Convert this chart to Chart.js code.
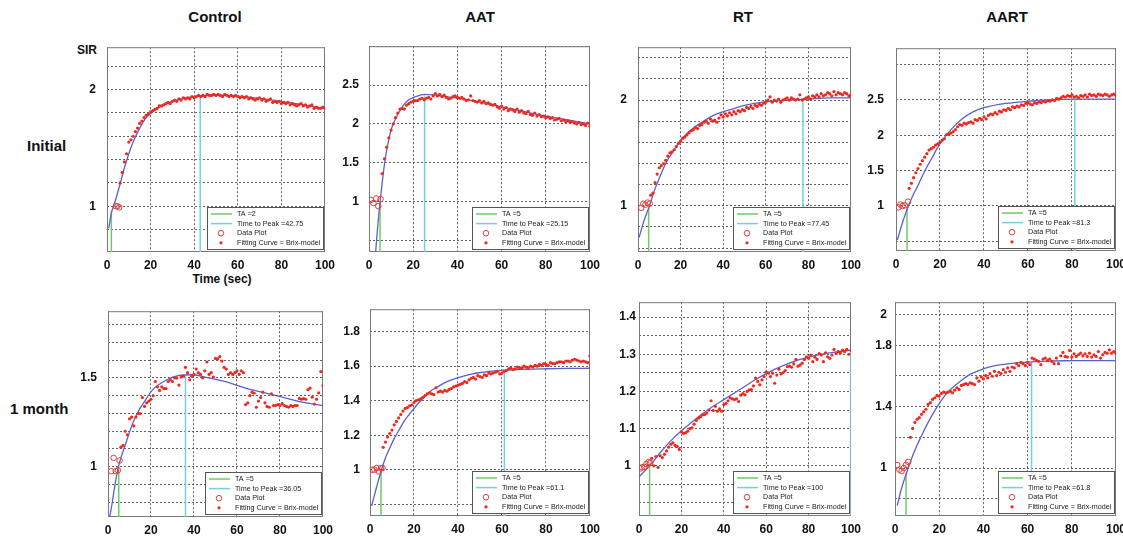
<!DOCTYPE html>
<html>
<head>
<meta charset="utf-8">
<title>SIR time curves</title>
<script src="https://cdn.jsdelivr.net/npm/chart.js@4.4.1/dist/chart.umd.min.js"></script>
<style>
  body { margin: 0; background: #fff; }
  .page { position: relative; width: 1123px; height: 540px; overflow: hidden; font-family: 'Liberation Sans', Arial, sans-serif; }
  .page canvas { position: absolute; }
  .txt { position: absolute; transform: translate(-50%, -50%); font-weight: bold; color: #111; white-space: nowrap; }
  .txt.row { transform: translate(0, -50%); }
</style>
</head>
<body>
<div class="page" id="page">
  <div class="txt" style="left:215px; top:16px; font-size:15px">Control</div>
  <div class="txt" style="left:480px; top:16px; font-size:15px">AAT</div>
  <div class="txt" style="left:743px; top:16px; font-size:15px">RT</div>
  <div class="txt" style="left:1007px; top:16px; font-size:15px">AART</div>
  <div class="txt row" style="left:27px; top:145px; font-size:15px">Initial</div>
  <div class="txt row" style="left:10px; top:408px; font-size:15px">1 month</div>
  <div class="txt" style="left:87px; top:50px; font-size:12px">SIR</div>
  <div class="txt" style="left:222px; top:279px; font-size:12px">Time (sec)</div>
</div>
<script>
// --- DATA | SHARED --- //
const seconds = [
  6, 7, 8, 9, 10, 11, 12, 13, 14, 15,
  16, 17, 18, 19, 20, 21, 22, 23, 24, 25,
  26, 27, 28, 29, 30, 31, 32, 33, 34, 35,
  36, 37, 38, 39, 40, 41, 42, 43, 44, 45,
  46, 47, 48, 49, 50, 51, 52, 53, 54, 55,
  56, 57, 58, 59, 60, 61, 62, 63, 64, 65,
  66, 67, 68, 69, 70, 71, 72, 73, 74, 75,
  76, 77, 78, 79, 80, 81, 82, 83, 84, 85,
  86, 87, 88, 89, 90, 91, 92, 93, 94, 95,
  96, 97, 98, 99, 100
]
const xTicks = [0, 20, 40, 60, 80, 100]

const taValues = [2, 5, 5, 5, 5, 5, 5, 5]
const taTops = [0.96, 0.99, 0.98, 0.99, 0.99, 1.0, 1.0, 0.97]
const ttpValues = [42.75, 25.15, 77.45, 81.3, 36.05, 61.1, 100, 61.8]
const ttpTops = [1.945, 2.37, 2.0, 2.5, 1.515, 1.577, 1.31, 1.69]
const yMins = [0.607, 0.35, 0.563, 0.364, 0.717, 0.732, 0.865, 0.688]
const yMaxs = [2.364, 3.0, 2.5, 3.23, 1.876, 1.93, 1.44, 2.08]

// --- DATA | CONTROL, INITIAL --- //
const ctlInitGrid = [0.8, 1, 1.2, 1.4, 1.6, 1.8, 2, 2.2]
const ctlInitLabels = [1, 2]
const ctlInitFitT = [0.8, 2, 3, 4, 6, 8, 10, 12, 15, 18, 21, 25, 30, 35, 40, 45, 50, 55, 60, 70, 80, 90, 100]
const ctlInitFitV = [0.81, 0.94, 1.0, 1.06, 1.19, 1.33, 1.45, 1.55, 1.67, 1.76, 1.81, 1.86, 1.9, 1.925, 1.94, 1.948, 1.95, 1.95, 1.945, 1.925, 1.9, 1.87, 1.84]
const ctlInitCircT = [4, 4.8, 5.6]
const ctlInitCircV = [1.0, 1.0, 0.99]
const ctlInitDots = [
  1.20, 1.29, 1.38, 1.45, 1.55, 1.57, 1.60, 1.64, 1.67, 1.71,
  1.73, 1.76, 1.78, 1.79, 1.81, 1.82, 1.83, 1.84, 1.86, 1.86,
  1.87, 1.88, 1.89, 1.88, 1.90, 1.91, 1.90, 1.92, 1.91, 1.93,
  1.92, 1.93, 1.92, 1.94, 1.93, 1.94, 1.95, 1.94, 1.95, 1.94,
  1.96, 1.95, 1.95, 1.96, 1.95, 1.96, 1.95, 1.94, 1.96, 1.95,
  1.94, 1.95, 1.94, 1.95, 1.94, 1.93, 1.94, 1.93, 1.94, 1.92,
  1.93, 1.92, 1.91, 1.92, 1.93, 1.91, 1.92, 1.90, 1.91, 1.92,
  1.89, 1.90, 1.89, 1.90, 1.88, 1.89, 1.88, 1.89, 1.87, 1.88,
  1.87, 1.86, 1.87, 1.88, 1.86, 1.87, 1.85, 1.86, 1.87, 1.84,
  1.85, 1.84, 1.84, 1.85, 1.84
]

// --- DATA | AAT, INITIAL --- //
const aatInitGrid = [0.5, 1, 1.5, 2, 2.5, 3]
const aatInitLabels = [1, 1.5, 2, 2.5]
const aatInitFitT = [3, 4, 5, 6, 7, 8, 9, 10, 11, 13, 15, 18, 21, 25, 30, 35, 40, 50, 60, 70, 80, 90, 100]
const aatInitFitV = [0.35, 0.7, 0.99, 1.25, 1.48, 1.66, 1.8, 1.92, 2.0, 2.12, 2.22, 2.31, 2.35, 2.38, 2.37, 2.35, 2.33, 2.28, 2.22, 2.16, 2.1, 2.05, 2.0]
const aatInitCircT = [0.8, 2, 3.3, 4.2, 5.2]
const aatInitCircV = [1.02, 0.98, 1.04, 0.94, 1.03]
const aatInitDots = [
  1.36, 1.55, 1.70, 1.82, 1.92, 2.00, 2.08, 2.14, 2.19, 2.20,
  2.19, 2.24, 2.26, 2.28, 2.29, 2.30, 2.30, 2.32, 2.33, 2.31,
  2.33, 2.34, 2.32, 2.36, 2.39, 2.36, 2.38, 2.35, 2.37, 2.34,
  2.32, 2.33, 2.35, 2.36, 2.34, 2.33, 2.34, 2.32, 2.30, 2.31,
  2.36, 2.30, 2.29, 2.28, 2.30, 2.27, 2.29, 2.26, 2.27, 2.25,
  2.24, 2.25, 2.22, 2.20, 2.23, 2.19, 2.21, 2.17, 2.19, 2.18,
  2.16, 2.19, 2.15, 2.17, 2.14, 2.13, 2.16, 2.12, 2.11, 2.14,
  2.10, 2.12, 2.09, 2.10, 2.08, 2.09, 2.07, 2.08, 2.05, 2.06,
  2.07, 2.04, 2.05, 2.03, 2.04, 2.02, 2.03, 2.01, 2.00, 2.02,
  1.99, 2.00, 1.98, 2.01, 1.97
]

// --- DATA | RT, INITIAL --- //
const rtInitGrid = [0.6, 0.8, 1, 1.2, 1.4, 1.6, 1.8, 2, 2.2, 2.4]
const rtInitLabels = [1, 2]
const rtInitFitT = [0.5, 3, 5.4, 8, 10, 13, 16, 20, 25, 30, 35, 40, 45, 50, 60, 70, 80, 90, 100]
const rtInitFitV = [0.7, 0.87, 1.0, 1.16, 1.26, 1.4, 1.5, 1.62, 1.72, 1.79, 1.85, 1.89, 1.92, 1.95, 1.985, 2.0, 2.01, 2.02, 2.02]
const rtInitCircT = [1.5, 2.5, 3.5, 4.5, 5.5]
const rtInitCircV = [0.98, 1.02, 1.01, 1.03, 1.02]
const rtInitDots = [
  1.10, 1.12, 1.22, 1.30, 1.36, 1.38, 1.40, 1.43, 1.47, 1.50,
  1.51, 1.53, 1.56, 1.59, 1.61, 1.64, 1.65, 1.67, 1.69, 1.71,
  1.72, 1.74, 1.73, 1.76, 1.77, 1.79, 1.80, 1.78, 1.82, 1.80,
  1.81, 1.79, 1.83, 1.86, 1.84, 1.87, 1.85, 1.88, 1.86, 1.89,
  1.87, 1.90, 1.89, 1.91, 1.90, 1.93, 1.92, 1.94, 1.92, 1.95,
  1.94, 1.96, 1.95, 1.97, 1.98, 2.00, 2.03, 1.98, 2.00, 1.99,
  2.01, 1.98, 2.00, 2.01, 2.02, 2.00, 2.02, 2.01, 2.00, 2.01,
  2.05, 2.00, 2.01, 2.02, 2.03, 2.01, 2.04, 2.03, 2.05, 2.03,
  2.06, 2.04, 2.05, 2.07, 2.06, 2.04, 2.08, 2.05, 2.07, 2.06,
  2.05, 2.07, 2.06, 2.04, 2.05
]

// --- DATA | AART, INITIAL --- //
const aartInitGrid = [0.5, 1, 1.5, 2, 2.5, 3]
const aartInitLabels = [1, 1.5, 2, 2.5]
const aartInitFitT = [0.6, 3, 5.5, 8, 10, 13, 16, 20, 25, 30, 35, 40, 50, 60, 70, 80, 90, 100]
const aartInitFitV = [0.52, 0.77, 0.99, 1.17, 1.29, 1.49, 1.66, 1.88, 2.08, 2.23, 2.33, 2.39, 2.45, 2.48, 2.5, 2.51, 2.51, 2.51]
const aartInitCircT = [1, 2, 3, 4, 5.5]
const aartInitCircV = [0.98, 1.02, 1.0, 1.01, 1.06]
const aartInitDots = [
  1.25, 1.32, 1.40, 1.47, 1.53, 1.59, 1.64, 1.69, 1.74, 1.79,
  1.81, 1.83, 1.86, 1.88, 1.90, 1.93, 1.95, 2.01, 2.02, 2.03,
  2.05, 2.08, 2.12, 2.15, 2.14, 2.17, 2.16, 2.18, 2.19, 2.17,
  2.22, 2.21, 2.24, 2.22, 2.26, 2.23, 2.28, 2.30, 2.29, 2.32,
  2.30, 2.34, 2.33, 2.36, 2.35, 2.38, 2.36, 2.40, 2.39, 2.41,
  2.40, 2.43, 2.42, 2.45, 2.46, 2.44, 2.43, 2.46, 2.45, 2.47,
  2.46, 2.48, 2.47, 2.49, 2.48, 2.50, 2.49, 2.52, 2.51, 2.53,
  2.55, 2.54, 2.56, 2.55, 2.57, 2.54, 2.55, 2.53, 2.56, 2.55,
  2.57, 2.54, 2.58, 2.56, 2.57, 2.55, 2.58, 2.57, 2.56, 2.58,
  2.57, 2.55, 2.57, 2.58, 2.56
]

// --- DATA | CONTROL, 1 MONTH --- //
const ctlMonthGrid = [0.8, 0.9, 1, 1.1, 1.2, 1.3, 1.4, 1.5, 1.6, 1.7, 1.8]
const ctlMonthLabels = [1, 1.5]
const ctlMonthFitT = [0.8, 2, 3, 4.6, 6, 8.5, 11.5, 14, 16.2, 20.8, 26.9, 33, 39, 45, 55, 64, 73, 82, 91, 100]
const ctlMonthFitV = [0.717, 0.8, 0.88, 0.986, 1.05, 1.14, 1.245, 1.31, 1.353, 1.434, 1.487, 1.514, 1.518, 1.505, 1.478, 1.443, 1.416, 1.389, 1.362, 1.344]
const ctlMonthCircT = [1.5, 2.6, 3.6, 4.6, 5.4]
const ctlMonthCircV = [0.975, 1.05, 0.975, 0.98, 1.035]
const ctlMonthDots = [
  1.11, 1.12, 1.20, 1.18, 1.27, 1.28, 1.23, 1.28, 1.30, 1.30,
  1.39, 1.34, 1.36, 1.37, 1.38, 1.40, 1.48, 1.45, 1.43, 1.45,
  1.44, 1.44, 1.48, 1.49, 1.48, 1.50, 1.50, 1.46, 1.505, 1.51,
  1.56, 1.53, 1.49, 1.51, 1.52, 1.55, 1.53, 1.52, 1.50, 1.54,
  1.59, 1.52, 1.53, 1.505, 1.61, 1.607, 1.62, 1.595, 1.56, 1.55,
  1.52, 1.53, 1.52, 1.53, 1.54, 1.52, 1.54, 1.53, 1.35, 1.36,
  1.40, 1.42, 1.415, 1.335, 1.37, 1.39, 1.42, 1.36, 1.34, 1.335,
  1.41, 1.345, 1.345, 1.35, 1.345, 1.355, 1.345, 1.34, 1.335, 1.345,
  1.34, 1.345, 1.345, 1.385, 1.38, 1.384, 1.38, 1.434, 1.443, 1.392,
  1.353, 1.38, 1.416, 1.536, 1.457
]

// --- DATA | AAT, 1 MONTH --- //
const aatMonthGrid = [0.8, 1, 1.2, 1.4, 1.6, 1.8]
const aatMonthLabels = [1, 1.2, 1.4, 1.6, 1.8]
const aatMonthFitT = [0.75, 3, 5.2, 7, 9, 11, 13.5, 16, 19.5, 22, 25.5, 28, 31.5, 35, 39, 46.5, 54, 61.5, 70, 80, 90, 100]
const aatMonthFitV = [0.79, 0.9, 1.0, 1.068, 1.126, 1.18, 1.237, 1.29, 1.347, 1.385, 1.43, 1.46, 1.486, 1.51, 1.529, 1.555, 1.569, 1.577, 1.582, 1.585, 1.587, 1.588]
const aatMonthCircT = [1, 2, 3, 4, 5, 5.7]
const aatMonthCircV = [1.0, 1.0, 1.01, 0.99, 1.01, 1.01]
const aatMonthDots = [
  1.13, 1.16, 1.19, 1.21, 1.23, 1.26, 1.28, 1.30, 1.32, 1.34,
  1.355, 1.36, 1.37, 1.375, 1.39, 1.40, 1.405, 1.41, 1.42, 1.43,
  1.44, 1.445, 1.44, 1.435, 1.475, 1.45, 1.455, 1.45, 1.46, 1.455,
  1.465, 1.47, 1.48, 1.485, 1.49, 1.495, 1.50, 1.51, 1.505, 1.52,
  1.53, 1.535, 1.525, 1.545, 1.54, 1.535, 1.55, 1.545, 1.56, 1.555,
  1.56, 1.565, 1.57, 1.555, 1.56, 1.57, 1.575, 1.585, 1.59, 1.58,
  1.585, 1.595, 1.59, 1.59, 1.60, 1.595, 1.59, 1.60, 1.595, 1.605,
  1.60, 1.61, 1.605, 1.615, 1.61, 1.605, 1.62, 1.615, 1.615, 1.62,
  1.625, 1.625, 1.62, 1.63, 1.63, 1.625, 1.635, 1.64, 1.635, 1.63,
  1.625, 1.63, 1.625, 1.62, 1.66
]

// --- DATA | RT, 1 MONTH --- //
const rtMonthGrid = [0.9, 0.95, 1, 1.05, 1.1, 1.15, 1.2, 1.25, 1.3, 1.35, 1.4]
const rtMonthLabels = [1, 1.1, 1.2, 1.3, 1.4]
const rtMonthFitT = [0, 5, 10, 15, 20, 25, 30, 35, 40, 45, 50, 55, 60, 65, 70, 75, 80, 85, 90, 95, 100]
const rtMonthFitV = [0.97, 1.0, 1.035, 1.067, 1.094, 1.118, 1.14, 1.16, 1.178, 1.196, 1.214, 1.232, 1.248, 1.262, 1.274, 1.284, 1.292, 1.299, 1.304, 1.308, 1.311]
const rtMonthCircT = [0.7, 1.5, 2.5, 3.5, 4.5, 5.3]
const rtMonthCircV = [0.993, 0.996, 0.997, 1.005, 1.01, 1.008]
const rtMonthDots = [
  1.02, 1.00, 1.025, 0.996, 1.027, 1.022, 1.031, 1.04, 1.05, 1.058,
  1.062, 1.055, 1.052, 1.044, 1.091, 1.087, 1.089, 1.093, 1.10, 1.102,
  1.112, 1.122, 1.128, 1.132, 1.137, 1.138, 1.142, 1.15, 1.175, 1.149,
  1.16, 1.147, 1.153, 1.147, 1.164, 1.168, 1.175, 1.183, 1.18, 1.178,
  1.18, 1.173, 1.19, 1.194, 1.191, 1.20, 1.204, 1.205, 1.215, 1.236,
  1.227, 1.218, 1.231, 1.24, 1.253, 1.249, 1.24, 1.249, 1.222, 1.244,
  1.26, 1.247, 1.251, 1.256, 1.267, 1.268, 1.265, 1.274, 1.286, 1.268,
  1.271, 1.276, 1.286, 1.293, 1.289, 1.298, 1.28, 1.292, 1.286, 1.302,
  1.298, 1.28, 1.304, 1.293, 1.289, 1.298, 1.313, 1.302, 1.307, 1.304,
  1.311, 1.307, 1.313, 1.30, 1.31
]

// --- DATA | AART, 1 MONTH --- //
const aartMonthGrid = [0.8, 1, 1.2, 1.4, 1.6, 1.8, 2]
const aartMonthLabels = [1, 1.4, 1.8, 2]
const aartMonthFitT = [1, 3, 6, 8, 10, 12, 14, 17, 20, 23, 26, 30, 34, 38, 42, 48, 55, 62, 70, 80, 90, 100]
const aartMonthFitV = [0.755, 0.87, 1.0, 1.08, 1.15, 1.21, 1.27, 1.35, 1.42, 1.48, 1.523, 1.57, 1.61, 1.635, 1.655, 1.673, 1.685, 1.692, 1.697, 1.699, 1.7, 1.7]
const aartMonthCircT = [1, 2, 3, 4, 5, 6]
const aartMonthCircV = [1.02, 0.99, 0.98, 1.0, 1.02, 1.04]
const aartMonthDots = [
  null, 1.20, 1.258, 1.297, 1.318, 1.329, 1.35, 1.366, 1.383, 1.415,
  1.426, 1.447, 1.458, 1.473, 1.469, 1.486, 1.495, 1.49, 1.495, 1.501,
  1.49, 1.507, 1.523, 1.512, 1.538, 1.544, 1.55, 1.544, 1.555, 1.55,
  1.544, 1.587, 1.566, 1.594, 1.581, 1.602, 1.587, 1.615, 1.598, 1.63,
  1.602, 1.624, 1.615, 1.641, 1.624, 1.652, 1.63, 1.658, 1.652, 1.68,
  1.667, 1.688, 1.68, 1.667, 1.688, 1.673, 1.716, 1.71, 1.701, 1.695,
  1.673, 1.71, 1.716, 1.701, 1.71, 1.695, 1.68, 1.716, 1.68, 1.731,
  1.753, 1.727, 1.723, 1.766, 1.723, 1.744, 1.727, 1.738, 1.748, 1.731,
  1.744, 1.727, 1.748, 1.723, 1.738, 1.727, 1.759, 1.716, 1.738, 1.753,
  1.748, 1.77, 1.748, 1.759, 1.748
]

// --- LAYOUT --- //
// frame = plot box [left, top, right, bottom] in page pixels
const panels = [
  { frame: [107, 37, 327, 252], grid: ctlInitGrid, labels: ctlInitLabels, fitT: ctlInitFitT, fitV: ctlInitFitV, circT: ctlInitCircT, circV: ctlInitCircV, dots: ctlInitDots, pad: 11, align: 'near' },
  { frame: [369, 37, 592, 252], grid: aatInitGrid, labels: aatInitLabels, fitT: aatInitFitT, fitV: aatInitFitV, circT: aatInitCircT, circV: aatInitCircV, dots: aatInitDots, pad: 10, align: 'near' },
  { frame: [638, 37, 853, 252], grid: rtInitGrid, labels: rtInitLabels, fitT: rtInitFitT, fitV: rtInitFitV, circT: rtInitCircT, circV: rtInitCircV, dots: rtInitDots, pad: 11, align: 'near' },
  { frame: [896, 37, 1118, 251], grid: aartInitGrid, labels: aartInitLabels, fitT: aartInitFitT, fitV: aartInitFitV, circT: aartInitCircT, circV: aartInitCircV, dots: aartInitDots, pad: 12, align: 'near' },
  { frame: [108, 301, 325, 517], grid: ctlMonthGrid, labels: ctlMonthLabels, fitT: ctlMonthFitT, fitV: ctlMonthFitV, circT: ctlMonthCircT, circV: ctlMonthCircV, dots: ctlMonthDots, pad: 11, align: 'near' },
  { frame: [370, 300, 592, 516], grid: aatMonthGrid, labels: aatMonthLabels, fitT: aatMonthFitT, fitV: aatMonthFitV, circT: aatMonthCircT, circV: aatMonthCircV, dots: aatMonthDots, pad: 10, align: 'near' },
  { frame: [639, 300, 853, 516], grid: rtMonthGrid, labels: rtMonthLabels, fitT: rtMonthFitT, fitV: rtMonthFitV, circT: rtMonthCircT, circV: rtMonthCircV, dots: rtMonthDots, pad: 3, align: 'center' },
  { frame: [895, 300, 1118, 516], grid: aartMonthGrid, labels: aartMonthLabels, fitT: aartMonthFitT, fitV: aartMonthFitV, circT: aartMonthCircT, circV: aartMonthCircV, dots: aartMonthDots, pad: 3, align: 'center' }
]

const AXIS_W = 40
const AXIS_H = 26
const PAD_TOP = 8
const PAD_RIGHT = 14
const tickFont = { family: "'Liberation Sans', Arial, sans-serif", size: 12, weight: 'bold' }
const gridColor = 'rgba(70, 70, 70, 0.85)'

// --- PLUGINS --- //
const frameBox = {
  id: 'frameBox',
  beforeDatasetsDraw: chart => {
    const { ctx, chartArea: a } = chart
    ctx.save()
    ctx.strokeStyle = '#7a7a7a'
    ctx.lineWidth = 1
    ctx.strokeRect(a.left + 0.5, a.top + 0.5, a.width - 1, a.height - 1)
    ctx.restore()
  }
}

// MATLAB style legend box in the lower right corner of the plot
const insideLegend = {
  id: 'insideLegend',
  afterDraw: chart => {
    const { ctx, chartArea: a } = chart
    const items = chart.data.datasets.filter(d => d.label)
    const w = 116
    const h = 42
    const x0 = a.right - w - 2
    const y0 = a.bottom - h - 3
    ctx.save()
    ctx.fillStyle = '#fff'
    ctx.fillRect(x0, y0, w, h)
    ctx.strokeStyle = '#555'
    ctx.lineWidth = 1
    ctx.strokeRect(x0 + 0.5, y0 + 0.5, w, h)
    ctx.font = "7.2px 'Liberation Sans', Arial, sans-serif"
    ctx.textBaseline = 'middle'
    items.forEach((d, i) => {
      const y = y0 + 7 + i * 9.6
      ctx.beginPath()
      if (d.showLine) {
        ctx.strokeStyle = d.borderColor
        ctx.lineWidth = d.borderWidth
        ctx.moveTo(x0 + 4, y)
        ctx.lineTo(x0 + 25, y)
        ctx.stroke()
      } else if (d.borderWidth) {
        ctx.strokeStyle = d.borderColor
        ctx.lineWidth = d.borderWidth
        ctx.arc(x0 + 14, y, d.pointRadius, 0, Math.PI * 2)
        ctx.stroke()
      } else {
        ctx.fillStyle = d.backgroundColor
        ctx.arc(x0 + 14, y, d.pointRadius, 0, Math.PI * 2)
        ctx.fill()
      }
      ctx.fillStyle = '#1a1a1a'
      ctx.fillText(d.label, x0 + 30, y)
    })
    ctx.restore()
  }
}

// --- CHARTS --- //
const page = document.getElementById('page')

panels.forEach((p, i) => {
  const [left, top, right, bottom] = p.frame
  const canvas = document.createElement('canvas')
  canvas.width = right - left + AXIS_W + PAD_RIGHT
  canvas.height = bottom - top + PAD_TOP + AXIS_H
  canvas.style.left = `${left - AXIS_W}px`
  canvas.style.top = `${top - PAD_TOP}px`
  page.appendChild(canvas)

  const datasets = [
    {
      label: `TA =${taValues[i]}`,
      data: [{ x: taValues[i], y: yMins[i] }, { x: taValues[i], y: taTops[i] }],
      showLine: true,
      borderColor: '#72c868',
      borderWidth: 1.5,
      pointRadius: 0,
      order: 5
    },
    {
      label: `Time to Peak =${ttpValues[i]}`,
      data: [{ x: ttpValues[i], y: yMins[i] }, { x: ttpValues[i], y: ttpTops[i] }],
      showLine: true,
      borderColor: '#74cfe4',
      borderWidth: 1.5,
      pointRadius: 0,
      order: 4
    },
    {
      label: 'Data Plot',
      data: p.circT.map((t, k) => ({ x: t, y: p.circV[k] })),
      pointRadius: 2.8,
      borderColor: '#e0403a',
      backgroundColor: 'rgba(0, 0, 0, 0)',
      borderWidth: 1,
      order: 2
    },
    {
      label: 'Fitting Curve = Brix-model',
      data: seconds.map((t, k) => ({ x: t, y: p.dots[k] })).filter(pt => pt.y !== null),
      pointRadius: 1.6,
      backgroundColor: '#f0281e',
      borderWidth: 0,
      order: 1
    },
    {
      data: p.fitT.map((t, k) => ({ x: t, y: p.fitV[k] })),
      showLine: true,
      borderColor: '#5a60cc',
      borderWidth: 1.3,
      pointRadius: 0,
      cubicInterpolationMode: 'monotone',
      order: 3
    }
  ]

  new Chart(canvas, {
    type: 'scatter',
    data: { datasets },
    options: {
      responsive: false,
      animation: false,
      events: [],
      layout: { padding: { top: PAD_TOP, right: PAD_RIGHT, left: 0, bottom: 0 } },
      plugins: {
        legend: { display: false },
        tooltip: { enabled: false }
      },
      scales: {
        x: {
          type: 'linear',
          min: 0,
          max: 100,
          afterBuildTicks: axis => { axis.ticks = xTicks.map(v => ({ value: v })) },
          afterFit: axis => { axis.height = AXIS_H },
          grid: { color: gridColor, lineWidth: 1, drawTicks: false, borderDash: [2, 2] },
          border: { display: false, dash: [2, 2] },
          ticks: { autoSkip: false, maxRotation: 0, padding: 6, color: '#111', font: tickFont }
        },
        y: {
          type: 'linear',
          min: yMins[i],
          max: yMaxs[i],
          afterBuildTicks: axis => { axis.ticks = p.grid.map(v => ({ value: v })) },
          afterFit: axis => { axis.width = AXIS_W },
          grid: { color: gridColor, lineWidth: 1, drawTicks: false, borderDash: [2, 2] },
          border: { display: false, dash: [2, 2] },
          ticks: {
            autoSkip: false,
            padding: p.pad,
            crossAlign: p.align,
            color: '#111',
            font: tickFont,
            callback: value => (p.labels.includes(value) ? String(value) : '')
          }
        }
      }
    },
    plugins: [frameBox, insideLegend]
  })
})
</script>
</body>
</html>
